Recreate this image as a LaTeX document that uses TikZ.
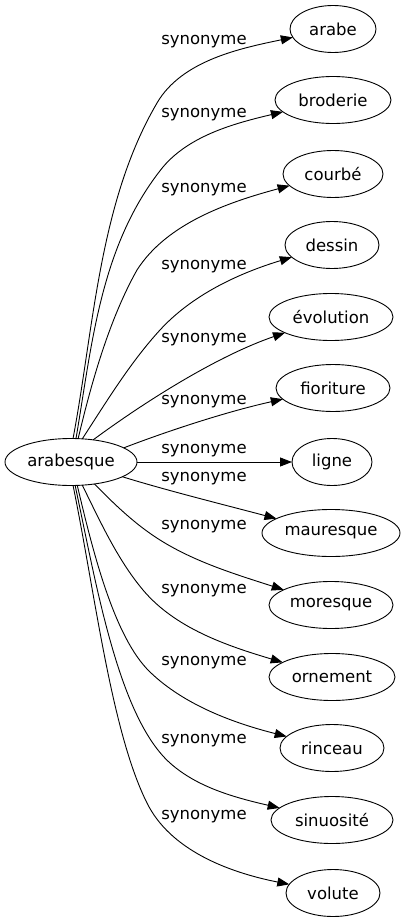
\documentclass[tikz,border=0pt]{standalone}
\usepackage{fontspec}
\setmainfont{DejaVu Sans}
\usetikzlibrary{shapes.geometric,arrows.meta}
\begin{document}
\begin{tikzpicture}[x=1pt,y=-1pt,
  term/.style={ellipse,draw,line width=0.9pt,inner sep=0pt,outer sep=0pt,
    minimum height=47pt,font=\fontsize{16.5}{19}\selectfont},
  lbl/.style={inner sep=0pt,font=\fontsize{16.5}{19}\selectfont},
  rel/.style={draw,line width=0.9pt,-{Triangle[length=12pt,width=9pt]}}]
\useasboundingbox (0,0) rectangle (409,923);
% nodes
\node[term,minimum width=132pt] (arabesque) at (71,462) {arabesque};
\node[term,minimum width=86pt]  (arabe)     at (333,29)  {arabe};
\node[term,minimum width=116pt] (broderie)  at (333,100) {broderie};
\node[term,minimum width=100pt] (courbe)    at (333,174) {courbé};
\node[term,minimum width=94pt]  (dessin)    at (332,245) {dessin};
\node[term,minimum width=124pt] (evolution) at (331,317) {évolution};
\node[term,minimum width=114pt] (fioriture) at (333,388) {fioriture};
\node[term,minimum width=80pt]  (ligne)     at (332,462) {ligne};
\node[term,minimum width=138pt] (mauresque) at (331,533) {mauresque};
\node[term,minimum width=124pt] (moresque)  at (331,605) {moresque};
\node[term,minimum width=126pt] (ornement)  at (332,677) {ornement};
\node[term,minimum width=104pt] (rinceau)   at (332,748) {rinceau};
\node[term,minimum width=122pt] (sinuosite) at (332,820) {sinuosité};
\node[term,minimum width=94pt]  (volute)    at (333,893) {volute};
% labels
\node[lbl] (l1)  at (204,42)  {synonyme};
\node[lbl] (l2)  at (204,115) {synonyme};
\node[lbl] (l3)  at (204,190) {synonyme};
\node[lbl] (l4)  at (204,267) {synonyme};
\node[lbl] (l5)  at (204,340) {synonyme};
\node[lbl] (l6)  at (204,402) {synonyme};
\node[lbl] (l7)  at (204,451) {synonyme};
\node[lbl] (l8)  at (204,479) {synonyme};
\node[lbl] (l9)  at (204,527) {synonyme};
\node[lbl] (l10) at (204,591) {synonyme};
\node[lbl] (l11) at (204,663) {synonyme};
\node[lbl] (l12) at (204,741) {synonyme};
\node[lbl] (l13) at (204,817) {synonyme};
% edges
\draw[rel] (arabesque.85.1) .. controls (94,327) and (99,202) .. (157,103)
  .. controls (182,60) and (242,48) .. (arabe);
\draw[rel] (arabesque.78) .. controls (92,345) and (100,245) .. (163,167)
  .. controls (190,135) and (236,123) .. (broderie);
\draw[rel] (arabesque.73.3) .. controls (92,380) and (110,318) .. (137,270)
  .. controls (167,223) and (229,202) .. (courbe);
\draw[rel] (arabesque.64.6) .. controls (106.6,401.5) and (130.3,362.4) .. (160,330)
  .. controls (193.8,293.1) and (242.3,272.2) .. (dessin);
\draw[rel] (arabesque.45.2) .. controls (150,398) and (220,355) .. (evolution);
\draw[rel] (arabesque.15.6) .. controls (165,432) and (225,412) .. (fioriture);
\draw[rel] (arabesque) -- (ligne);
\draw[rel] (arabesque.-16.3) .. controls (165,490) and (225,505) .. (mauresque);
\draw[rel] (arabesque.-43.7) .. controls (114,504) and (135.4,524.6) .. (160,540)
  .. controls (194.7,561.8) and (234.5,574) .. (moresque);
\draw[rel] (arabesque.-64.6) .. controls (100,521) and (117.3,559.3) .. (143,590)
  .. controls (175,628) and (226,645.5) .. (ornement);
\draw[rel] (arabesque.-75.7) .. controls (92.8,551) and (114,637.3) .. (150,672)
  .. controls (185.3,706) and (236,723.6) .. (rinceau);
\draw[rel] (arabesque.-80.3) .. controls (95.8,581.8) and (118,716.3) .. (170,763)
  .. controls (196.8,787) and (233.6,797.3) .. (sinuosite);
\draw[rel] (arabesque.-85.1) .. controls (95,592.7) and (111.2,731.5) .. (147,803)
  .. controls (170,849.5) and (227,872) .. (volute);
\end{tikzpicture}
\end{document}
